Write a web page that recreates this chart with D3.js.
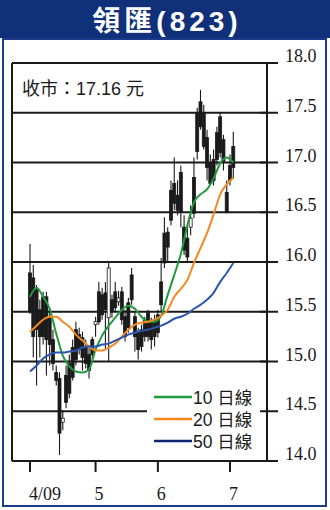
<!DOCTYPE html>
<html>
<head>
<meta charset="utf-8">
<script src="https://cdn.jsdelivr.net/npm/d3@7"></script>
<style>
  body { margin: 0; background: #fff; }
  svg { display: block; }
</style>
</head>
<body>
<div id="chart"></div>
<script>
// 領匯 (823) daily candles, Apr - early Jul 2009

var title = "領匯(823)";
var closeText = "收市：17.16 元";

// trading days from 1 Apr 2009
var open = [
	15.50, 15.25, 15.32, 15.25, 15.25, 15.22, 15.17, 14.98, 14.81, 14.28,
	14.43, 14.59, 14.68, 14.84, 15.02, 15.12, 15.04, 14.98, 14.91, 15.07,
	15.40, 15.40, 15.47, 15.52, 15.94, 15.50, 15.54, 15.64, 15.42, 15.25,
	15.34, 15.62, 15.25, 15.12, 15.15, 15.25, 15.25, 15.22, 15.25, 15.29,
	15.57, 15.99, 16.15, 16.42, 16.59, 16.52, 16.50, 16.12, 16.05, 16.44,
	16.49, 17.11, 17.36, 17.16, 16.95, 16.79, 16.82, 17.03, 17.10, 17.01,
	16.50, 16.82, 16.95];
var close = [
	15.89, 15.84, 15.72, 15.52, 15.65, 15.65, 15.44, 15.22, 14.89, 14.83,
	14.39, 14.86, 14.98, 15.14, 15.32, 15.27, 15.24, 15.15, 15.07, 15.22,
	15.37, 15.70, 15.67, 15.69, 15.44, 15.62, 15.70, 15.60, 15.70, 15.45,
	15.59, 15.87, 15.45, 15.29, 15.32, 15.42, 15.49, 15.39, 15.42, 15.47,
	15.80, 16.29, 16.30, 16.72, 16.79, 16.67, 16.90, 16.35, 16.24, 16.35,
	16.85, 17.50, 17.61, 17.50, 17.25, 17.00, 17.03, 17.30, 17.46, 17.23,
	16.70, 16.97, 17.16];
var high = [
	16.18, 15.97, 15.77, 15.62, 15.70, 15.70, 15.52, 15.32, 14.96, 14.89,
	14.51, 14.96, 15.07, 15.22, 15.40, 15.34, 15.30, 15.22, 15.14, 15.25,
	15.45, 15.80, 15.74, 15.80, 16.00, 15.67, 15.80, 15.71, 15.75, 15.52,
	15.64, 15.94, 15.50, 15.34, 15.37, 15.45, 15.52, 15.44, 15.47, 15.52,
	16.04, 16.45, 16.35, 16.82, 17.05, 16.82, 16.97, 16.47, 16.37, 16.57,
	17.05, 17.55, 17.73, 17.58, 17.33, 17.08, 17.13, 17.36, 17.50, 17.28,
	16.82, 17.08, 17.31];
var low = [
	15.48, 15.04, 14.76, 15.04, 15.17, 14.86, 14.96, 14.91, 14.76, 14.06,
	14.31, 14.53, 14.63, 14.81, 14.96, 15.07, 14.91, 14.93, 14.83, 15.02,
	15.25, 15.37, 15.42, 15.12, 15.00, 15.44, 15.50, 15.56, 15.37, 15.20,
	15.29, 15.57, 15.10, 15.02, 15.10, 15.20, 15.20, 15.12, 15.15, 15.24,
	15.50, 15.94, 16.00, 16.37, 16.52, 16.47, 16.35, 16.07, 16.00, 16.27,
	16.44, 17.03, 17.33, 17.13, 16.82, 16.77, 16.77, 16.97, 17.05, 16.92,
	16.49, 16.77, 16.84];

var maDays = [0, 2, 4, 6, 8, 10, 12, 14, 16, 18, 20, 22, 24, 26, 28, 30,
	32, 34, 36, 38, 40, 42, 44, 46, 48, 50, 52, 54, 56, 58, 60, 62];
var ma10 = [15.65, 15.74, 15.65, 15.53, 15.28, 15.06, 14.95, 14.90, 14.89, 14.92,
	15.12, 15.26, 15.36, 15.44, 15.52, 15.56, 15.53, 15.45, 15.40, 15.40,
	15.46, 15.67, 15.87, 16.08, 16.37, 16.60, 16.68, 16.73, 16.84, 16.99,
	17.05, 17.00];
var ma20 = [15.30, 15.36, 15.42, 15.45, 15.45, 15.40, 15.35, 15.27, 15.21, 15.15,
	15.11, 15.11, 15.14, 15.18, 15.25, 15.32, 15.37, 15.39, 15.40, 15.42,
	15.46, 15.52, 15.65, 15.73, 15.82, 15.99, 16.14, 16.29, 16.48, 16.68,
	16.78, 16.85];
var ma50 = [14.90, 14.96, 15.03, 15.07, 15.09, 15.09, 15.10, 15.11, 15.14, 15.15,
	15.15, 15.17, 15.18, 15.21, 15.24, 15.27, 15.29, 15.31, 15.32, 15.34,
	15.36, 15.39, 15.43, 15.45, 15.48, 15.53, 15.57, 15.62, 15.69, 15.80,
	15.89, 15.99];

var yTicks = [14.0, 14.5, 15.0, 15.5, 16.0, 16.5, 17.0, 17.5, 18.0];
var monthDays = [0, 20, 39, 61];
var monthLabels = ["4/09", "5", "6", "7"];
var legendNames = ["10 日線", "20 日線", "50 日線"];

var width = 330;
var height = 510;
var navy = "#10307a";
var ink = "#1a1a1a";
var maColors = ["#1f9a3c", "#f5891f", "#2c55b0"];
var legendColors = ["#1f9a3c", "#f5891f", "#0d2470"];

var svg = d3.select("#chart")
	.append("svg")
		.attr("width", width)
		.attr("height", height);

// header band + panel border
svg.append("rect")
	.attr("x", 0).attr("y", 0)
	.attr("width", width).attr("height", 38)
	.attr("fill", navy);

svg.append("text")
	.attr("x", 167).attr("y", 31)
	.attr("text-anchor", "middle")
	.attr("fill", "#fff")
	.attr("font-family", "'Liberation Sans', 'Noto Sans CJK TC', sans-serif")
	.attr("font-weight", "bold")
	.attr("font-size", 28)
	.attr("letter-spacing", 4)
	.text(title);

svg.append("rect")
	.attr("x", 3).attr("y", 39)
	.attr("width", 323).attr("height", 467)
	.attr("fill", "none")
	.attr("stroke", "#1b3a8a")
	.attr("stroke-width", 2);

var left = 12, right = 267;

var x = d3.scaleLinear()
	.domain([0, 61])
	.range([30, 230]);

var y = d3.scaleLinear()
	.domain([14, 18])
	.range([461, 63]);

// frame
var frame = svg.append("g")
	.attr("stroke", ink)
	.attr("stroke-width", 2)
	.attr("fill", "none");

frame.append("line")
	.attr("x1", left).attr("x2", left)
	.attr("y1", y(18)).attr("y2", y(14));
frame.append("line")
	.attr("x1", right).attr("x2", right)
	.attr("y1", y(18)).attr("y2", y(14));

// gridlines + right ticks
frame.selectAll(".grid")
	.data(yTicks)
	.enter().append("line")
		.attr("class", "grid")
		.attr("x1", left)
		.attr("x2", function(d) { return d == 14.5 ? 147 : right; })
		.attr("y1", function(d) { return y(d); })
		.attr("y2", function(d) { return y(d); });

frame.selectAll(".ytick")
	.data(yTicks)
	.enter().append("line")
		.attr("class", "ytick")
		.attr("x1", right - 7).attr("x2", 278)
		.attr("y1", function(d) { return y(d); })
		.attr("y2", function(d) { return y(d); });

svg.selectAll(".ylabel")
	.data(yTicks)
	.enter().append("text")
		.attr("class", "ylabel")
		.attr("x", 285)
		.attr("y", function(d) { return y(d) - 1; })
		.attr("font-family", "'Liberation Serif', serif")
		.attr("font-size", 18)
		.attr("fill", ink)
		.text(d3.format(".1f"));

// x ticks
frame.selectAll(".xtick")
	.data(monthDays)
	.enter().append("line")
		.attr("class", "xtick")
		.attr("x1", function(d) { return x(d); })
		.attr("x2", function(d) { return x(d); })
		.attr("y1", y(14)).attr("y2", y(14) + 11);

svg.selectAll(".xlabel")
	.data(monthDays)
	.enter().append("text")
		.attr("class", "xlabel")
		.attr("x", function(d) { return x(d) - 1; })
		.attr("y", 500)
		.attr("font-family", "'Liberation Serif', serif")
		.attr("font-size", 18)
		.attr("fill", ink)
		.text(function(d, i) { return monthLabels[i]; });

// candles
var candles = d3.range(open.length).map(function(i) {
	return { i: i, o: open[i], h: high[i], l: low[i], c: close[i] };
});

var cg = svg.append("g");

cg.selectAll(".wick")
	.data(candles)
	.enter().append("line")
		.attr("class", "wick")
		.attr("x1", function(d) { return x(d.i); })
		.attr("x2", function(d) { return x(d.i); })
		.attr("y1", function(d) { return y(d.h); })
		.attr("y2", function(d) { return y(d.l); })
		.attr("stroke", ink)
		.attr("stroke-width", 1.1);

cg.selectAll(".body")
	.data(candles)
	.enter().append("rect")
		.attr("class", "body")
		.attr("x", function(d) { return x(d.i) - 1.5; })
		.attr("width", 3)
		.attr("y", function(d) { return y(Math.max(d.o, d.c)); })
		.attr("height", function(d) { return Math.max(1, Math.abs(y(d.o) - y(d.c))); })
		.attr("fill", function(d) { return d.c >= d.o ? ink : "#fff"; })
		.attr("stroke", ink)
		.attr("stroke-width", 0.8);

// moving averages
[ma10, ma20, ma50].forEach(function(ma, k) {
	var line = d3.line()
		.x(function(d, i) { return x(maDays[i]); })
		.y(function(d) { return y(d); })
		.curve(d3.curveMonotoneX);

	svg.append("path")
		.datum(ma)
		.attr("d", line)
		.attr("fill", "none")
		.attr("stroke", maColors[k])
		.attr("stroke-width", 2);
});

// close price note
svg.append("text")
	.attr("x", 22).attr("y", 95)
	.attr("font-family", "'Liberation Sans', 'Noto Sans CJK TC', sans-serif")
	.attr("font-size", 18)
	.attr("fill", ink)
	.text(closeText);

// legend
var lg = svg.selectAll(".legend")
	.data(legendNames)
	.enter().append("g")
		.attr("class", "legend")
		.attr("transform", function(d, i) { return "translate(0," + (397 + i * 22) + ")"; });

lg.append("line")
	.attr("x1", 154).attr("x2", 192)
	.attr("stroke", function(d, i) { return legendColors[i]; })
	.attr("stroke-width", 2.5);

lg.append("text")
	.attr("x", 193).attr("y", 7)
	.attr("font-family", "'Liberation Sans', 'Noto Sans CJK TC', sans-serif")
	.attr("font-size", 17.5)
	.attr("fill", ink)
	.text(function(d) { return d; });
</script>
</body>
</html>
